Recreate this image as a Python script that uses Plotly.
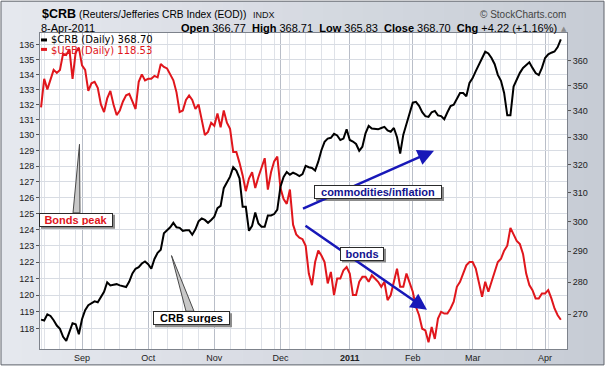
import math
import pandas as pd
import plotly.graph_objects as go

# ---------------- data ----------------
holidays = ["2010-09-06", "2010-11-25", "2010-12-24", "2011-01-17", "2011-02-21"]
dates = [d for d in pd.bdate_range("2010-08-13", "2011-04-08")
         if d.strftime("%Y-%m-%d") not in holidays]

crb = [268.4, 268.1, 270.0, 269.5, 268.2, 266.6, 265.6, 263.2, 262.0, 264.5, 267.3, 267.0, 264.0,
       268.5, 271.3, 272.8, 273.3, 274.0, 273.7, 275.3, 277.0, 280.0, 279.0, 279.2, 279.4, 279.0,
       278.8, 278.5, 280.2, 282.8, 284.3, 284.8, 286.0, 286.7, 285.8, 284.3, 287.5, 289.5, 290.5,
       296.0, 297.0, 298.0, 299.5, 298.0, 297.8, 296.8, 297.0, 297.0, 295.5, 297.3, 300.0, 301.0,
       300.5, 299.5, 300.5, 301.6, 304.5, 305.3, 311.5, 313.4, 315.6, 319.0, 317.8, 315.0, 305.0,
       305.0, 296.8, 298.5, 303.0, 299.3, 298.2, 298.2, 302.0, 302.0, 302.5, 304.0, 312.0, 315.5,
       317.3, 316.3, 317.0, 316.5, 315.8, 316.5, 319.5, 319.0, 318.7, 317.8, 321.0, 325.2, 328.3,
       329.5, 329.8, 331.3, 330.7, 329.0, 329.5, 333.0, 329.0, 328.4, 327.5, 325.0, 326.5, 331.5,
       334.3, 333.3, 333.2, 333.0, 333.5, 333.9, 332.6, 332.1, 333.5, 330.0, 324.0, 331.0, 335.0,
       339.0, 343.2, 343.5, 342.0, 339.5, 338.0, 337.7, 339.5, 340.0, 338.3, 338.0, 336.8, 339.5,
       341.9, 342.4, 344.5, 347.0, 347.0, 345.7, 351.0, 352.9, 355.7, 358.5, 361.5, 363.6, 362.9,
       361.0, 358.5, 354.2, 351.8, 347.0, 338.3, 338.3, 349.5, 352.2, 355.0, 357.0, 358.3, 359.3,
       357.0, 354.9, 354.1, 357.0, 361.0, 362.5, 363.2, 363.7, 365.5, 368.7]

usb = [131.8, 133.7, 133.0, 133.6, 134.3, 134.1, 134.3, 135.4, 135.3, 135.7, 133.7, 135.5, 135.8,
       134.6, 134.3, 132.9, 133.4, 133.5, 133.1, 132.0, 131.5, 132.4, 132.9, 132.0, 131.3, 131.6,
       132.2, 132.6, 132.7, 132.2, 131.7, 133.5, 134.0, 133.6, 133.7, 133.7, 133.9, 133.8, 134.7,
       134.5, 134.4, 134.0, 133.6, 132.8, 131.5, 131.6, 132.3, 132.6, 132.3, 131.7, 132.0, 131.0,
       130.0, 130.2, 130.8, 130.6, 131.4, 130.5, 131.6, 130.8, 130.4, 128.9, 128.9, 128.2, 127.4,
       126.4, 127.2, 127.6, 126.6, 127.3, 127.9, 128.5, 126.5, 127.6, 128.3, 128.6, 126.6, 125.9,
       125.6, 126.5, 124.3, 123.7, 123.5, 123.4, 123.0, 121.3, 120.6, 122.0, 122.7, 122.4, 122.0,
       120.7, 121.4, 120.0, 121.0, 121.0, 121.5, 121.7, 121.3, 120.0, 120.0, 120.8, 121.1, 121.1,
       120.8, 121.2, 121.0, 120.8, 120.5, 120.8, 119.7, 120.0, 120.8, 121.6, 120.5, 120.5, 121.3,
       120.7, 120.2, 119.3, 118.8, 118.0, 117.9, 117.2, 118.1, 117.4, 118.6, 119.0, 118.9, 118.9,
       119.2, 119.6, 120.5, 120.8, 121.3, 121.8, 122.0, 122.0, 121.6, 120.7, 119.9, 120.8, 120.2,
       120.8, 121.4, 122.0, 122.2, 122.7, 123.0, 124.1, 123.7, 123.3, 123.1, 122.5, 121.3, 120.6,
       120.3, 119.8, 119.8, 120.1, 120.1, 120.3, 119.8, 119.2, 118.8, 118.53]

month_ticks = ["2010-09-01", "2010-10-01", "2010-11-01", "2010-12-01",
               "2011-01-03", "2011-02-01", "2011-03-01", "2011-04-01"]
month_labels = ["Sep", "Oct", "Nov", "Dec", "<b>2011</b>", "Feb", "Mar", "Apr"]
usb_ticks = list(range(118, 137))
crb_ticks = list(range(270, 361, 10))

# first trading day of each week (weekly grid)
week_starts = []
prev = None
for d in dates:
    wk = d.isocalendar()[1]
    if wk != prev:
        week_starts.append(d)
    prev = wk

# ---------------- geometry helpers (pixel -> paper) ----------------
W, H = 611, 375
PL, PR, PT, PB = 40, 567, 33, 351


def fx(px):
    return (px - PL) / (PR - PL)


def fy(py):
    return (PB - py) / (PB - PT)


SANS = "Liberation Sans, Arial, sans-serif"
VERD = "DejaVu Sans, Verdana, sans-serif"
RED = "#e0161c"

fig = go.Figure()
fig.add_trace(go.Scatter(x=dates, y=usb, mode="lines", name="$USB (Daily)",
                         line=dict(color=RED, width=2), yaxis="y"))
fig.add_trace(go.Scatter(x=dates, y=crb, mode="lines", name="$CRB (Daily)",
                         line=dict(color="#000000", width=2), yaxis="y2"))

shapes = []
# outer background: horizontal gradient made of strips
n = 30
c0, c1 = (229, 232, 238), (199, 204, 213)
for i in range(n):
    t = i / (n - 1)
    col = tuple(round(a + (b - a) * t) for a, b in zip(c0, c1))
    xa = 1 + (604 - 1) * i / n
    xb = 1 + (604 - 1) * (i + 1) / n + 0.6
    shapes.append(dict(type="rect", xref="paper", yref="paper", layer="below",
                       x0=fx(xa), x1=fx(min(xb, 604)), y0=fy(367), y1=fy(1),
                       fillcolor="rgb(%d,%d,%d)" % col, line=dict(width=0)))
shapes.append(dict(type="rect", xref="paper", yref="paper", layer="below",
                   x0=fx(1), x1=fx(604), y0=fy(367), y1=fy(1),
                   line=dict(color="#5f636b", width=1)))
shapes.append(dict(type="rect", xref="paper", yref="paper", layer="below",
                   x0=0, x1=1, y0=0, y1=1, fillcolor="#ffffff", line=dict(width=0)))

# legend dashes
shapes.append(dict(type="line", xref="paper", yref="paper", x0=fx(41), x1=fx(47),
                   y0=fy(40), y1=fy(40), line=dict(color="#000", width=3)))
shapes.append(dict(type="line", xref="paper", yref="paper", x0=fx(41), x1=fx(47),
                   y0=fy(49.5), y1=fy(49.5), line=dict(color=RED, width=3)))


def tri(points, fill, line):
    p = "M " + " L ".join(f"{fx(a):.5f},{fy(b):.5f}" for a, b in points) + " Z"
    return dict(type="path", xref="paper", yref="paper", path=p,
                fillcolor=fill, line=dict(color=line, width=1))


# pointers
shapes.append(tri([(73, 214), (79.5, 145), (80, 214)], "#c8c8c8", "#4a4a4a"))
shapes.append(tri([(171.5, 257), (186, 313), (194, 313)], "#c8c8c8", "#4a4a4a"))

# annotation boxes (text, x0, x1, y0, y1, colour) in pixels
boxes = [
    ("<b>Bonds peak</b>", 39, 113, 214, 228, RED),
    ("<b>CRB surges</b>", 153, 230, 313, 327, "#000000"),
    ("<b>commodities/inflation</b>", 314, 442, 186, 200, "#12128f"),
    ("<b>bonds</b>", 340, 384, 248, 262, "#12128f"),
]
for _, x0, x1, y0, y1, _c in boxes:
    shapes.append(dict(type="rect", xref="paper", yref="paper",
                       x0=fx(x0 + 2), x1=fx(x1 + 2), y0=fy(y1 + 2), y1=fy(y0 + 2),
                       fillcolor="#8c8c8c", line=dict(width=0)))

annotations = []
# arrows (drawn first so boxes cover them)
for (tx, ty, hx, hy) in [(301.5, 210, 434, 151.5), (304, 226.5, 427, 311.5)]:
    annotations.append(dict(xref="paper", yref="paper", x=fx(hx), y=fy(hy),
                            ax=tx - hx, ay=ty - hy, axref="pixel", ayref="pixel",
                            text="", showarrow=True, arrowhead=2, arrowsize=1.3,
                            arrowwidth=2.5, arrowcolor="#1818b8", standoff=0, startstandoff=0))

for txt, x0, x1, y0, y1, col in boxes:
    annotations.append(dict(xref="paper", yref="paper", x=fx((x0 + x1) / 2), y=fy((y0 + y1) / 2),
                            xanchor="center", yanchor="middle", text=txt, showarrow=False,
                            width=x1 - x0 - 4, height=y1 - y0 - 4, align="center",
                            bgcolor="#ffffff", bordercolor="#2a2a2a", borderwidth=1, borderpad=1,
                            font=dict(family=SANS, size=11, color=col)))

# legend text
annotations.append(dict(xref="paper", yref="paper", x=fx(49), y=fy(39.3), xanchor="left",
                        yanchor="middle", showarrow=False, text="$CRB (Daily) 368.70",
                        font=dict(family=VERD, size=10, color="#000")))
annotations.append(dict(xref="paper", yref="paper", x=fx(49), y=fy(51.1), xanchor="left",
                        yanchor="middle", showarrow=False, text="$USB (Daily) 118.53",
                        font=dict(family=VERD, size=10, color=RED)))

# header
annotations.append(dict(xref="paper", yref="paper", x=fx(40), y=fy(14), xanchor="left",
                        yanchor="middle", showarrow=False, text="<b>$CRB</b>",
                        font=dict(family=SANS, size=12.5, color="#000")))
annotations.append(dict(xref="paper", yref="paper", x=fx(77), y=fy(14.5), xanchor="left",
                        yanchor="middle", showarrow=False,
                        text="(Reuters/Jefferies CRB Index (EOD))",
                        font=dict(family=SANS, size=10.2, color="#000")))
annotations.append(dict(xref="paper", yref="paper", x=fx(251), y=fy(15), xanchor="left",
                        yanchor="middle", showarrow=False, text="INDX",
                        font=dict(family=SANS, size=9, color="#111")))
annotations.append(dict(xref="paper", yref="paper", x=fx(568), y=fy(14), xanchor="right",
                        yanchor="middle", showarrow=False, text="© StockCharts.com",
                        font=dict(family=SANS, size=10, color="#444")))
annotations.append(dict(xref="paper", yref="paper", x=fx(39), y=fy(28), xanchor="left",
                        yanchor="middle", showarrow=False, text="8-Apr-2011",
                        font=dict(family=SANS, size=11, color="#000")))
annotations.append(dict(xref="paper", yref="paper", x=fx(559), y=fy(28), xanchor="right",
                        yanchor="middle", showarrow=False,
                        text="<b>Open</b> 366.77  <b>High</b> 368.71  <b>Low</b> 365.83  "
                             "<b>Close</b> 368.70  <b>Chg</b> +4.22 (+1.16%)",
                        font=dict(family=SANS, size=11, color="#000")))
annotations.append(dict(xref="paper", yref="paper", x=fx(564), y=fy(28.5), xanchor="center",
                        yanchor="middle", showarrow=False, text="▲",
                        font=dict(family=VERD, size=7, color="#8a8a8a")))

tickfont = dict(family=SANS, size=9, color="#222")
fig.update_layout(
    width=W, height=H, autosize=False,
    margin=dict(l=PL, r=W - PR, t=PT, b=H - PB, pad=0),
    paper_bgcolor="#ffffff", plot_bgcolor="#ffffff",
    showlegend=False, hovermode=False,
    shapes=shapes, annotations=annotations,
    xaxis=dict(type="date", range=["2010-08-12 16:00", "2011-04-11 23:00"],
               rangebreaks=[dict(bounds=["sat", "mon"]), dict(values=holidays)],
               tickmode="array", tickvals=month_ticks, ticktext=month_labels,
               showgrid=True, gridcolor="#b9bec8", gridwidth=1,
               minor=dict(tickmode="array", tickvals=week_starts, showgrid=True,
                          gridcolor="#dfe2e8", gridwidth=1),
               ticks="", tickfont=tickfont, showline=True, mirror=True,
               linecolor="#7d828b", linewidth=1, zeroline=False),
    yaxis=dict(type="log", range=[math.log10(116.81), math.log10(136.8)],
               tickmode="array", tickvals=usb_ticks, ticktext=[str(v) for v in usb_ticks],
               ticks="outside", ticklen=3, tickcolor="#555", tickfont=tickfont,
               showgrid=True, gridcolor="#d8dce3", gridwidth=1,
               showline=True, linecolor="#7d828b", linewidth=1, mirror=False, zeroline=False),
    yaxis2=dict(type="log", overlaying="y", side="right",
                range=[math.log10(259.6), math.log10(371.4)],
                tickmode="array", tickvals=crb_ticks, ticktext=[str(v) for v in crb_ticks],
                ticks="outside", ticklen=3, tickcolor="#555", tickfont=tickfont,
                showgrid=False, showline=True, linecolor="#7d828b", linewidth=1, zeroline=False),
)

fig.write_html("out.html", config={"displayModeBar": False, "staticPlot": True},
               post_script="document.body.style.margin='0px';document.body.style.padding='0px';")
